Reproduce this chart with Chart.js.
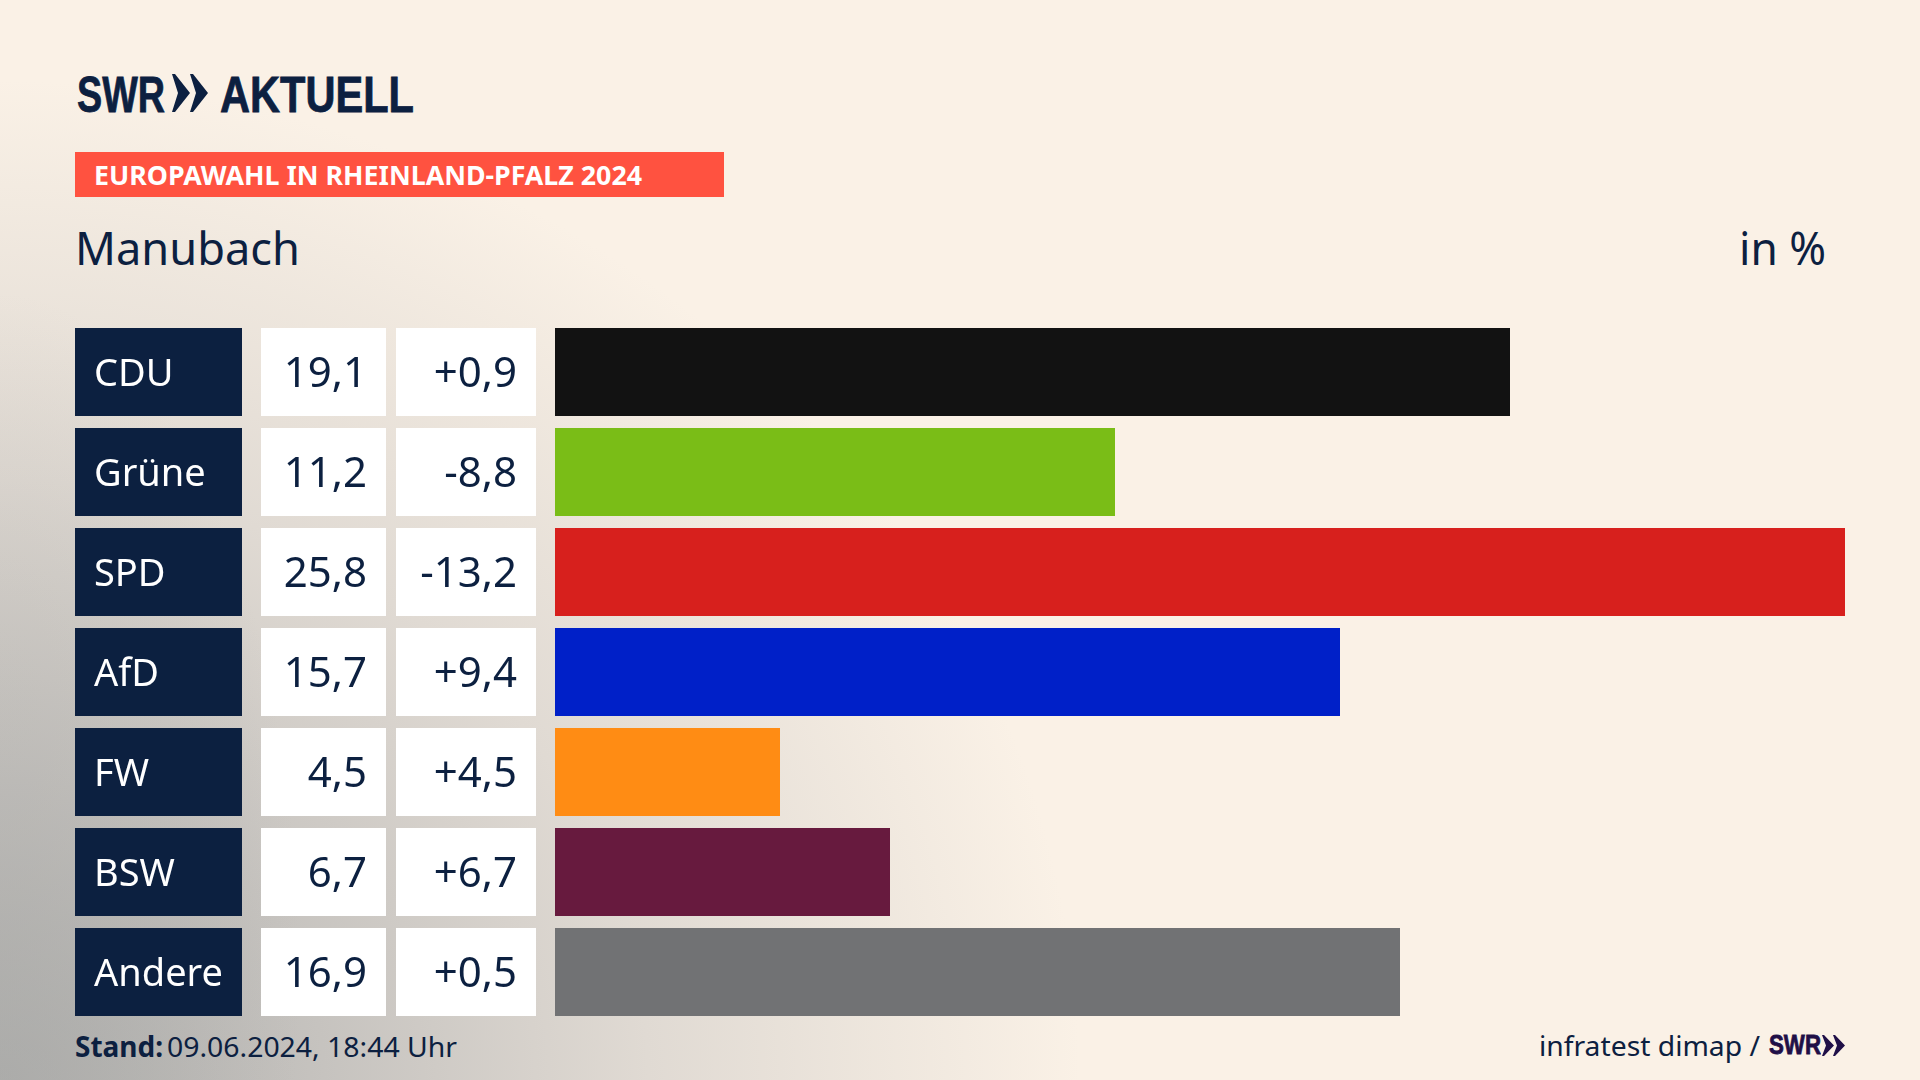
<!DOCTYPE html>
<html lang="de">
<head>
<meta charset="utf-8">
<title>Europawahl Manubach</title>
<script src="https://cdn.jsdelivr.net/npm/chart.js@4"></script>
<style>
  html, body { margin: 0; padding: 0; }
  body {
    width: 1920px; height: 1080px; overflow: hidden; position: relative;
    font-family: "Noto Sans", sans-serif; color: #0c2040;
    background:
      radial-gradient(ellipse 300px 680px at 0 90%, rgba(170,170,168,0.5) 0%, rgba(170,170,168,0) 100%),
      radial-gradient(ellipse 1080px 1000px at 0 100%, #adadab 0%, #c6c3bf 30%, #e0dad3 60%, rgba(250,241,230,0) 100%),
      #faf1e6;
  }
  canvas { position: absolute; left: 0; top: 0; }
  .txt { position: absolute; white-space: nowrap; line-height: 1; transform-origin: 0 0; }
  .logo { font-family: "Liberation Sans", sans-serif; font-weight: 700; -webkit-text-stroke: 0.8px currentColor; }
  #badge { position: absolute; left: 75px; top: 152px; width: 649px; height: 45px; background: #ff5240; }
  svg { position: absolute; }
</style>
</head>
<body>
<div class="txt logo" data-w="88" style="left:77px;top:70px;font-size:50px">SWR</div>
<svg style="left:172px;top:74px" width="37" height="38" viewBox="0 0 37 38" fill="#0c2040">
  <polygon points="0,0 3,0 18,19 3,38 0,38 6,19"/>
  <polygon points="18,0 21,0 36,19 21,38 18,38 24,19"/>
</svg>
<div class="txt logo" data-w="194" style="left:220px;top:70px;font-size:50px">AKTUELL</div>

<div id="badge"></div>
<div class="txt" data-w="548" style="left:94px;top:161px;font-size:27px;font-weight:700;color:#fff">EUROPAWAHL IN RHEINLAND-PFALZ 2024</div>

<div class="txt" data-w="225" style="left:75px;top:224px;font-size:46px">Manubach</div>
<div class="txt" data-w="87" style="left:1739px;top:224px;font-size:46px">in %</div>

<div class="txt" data-w="88" style="left:75px;top:1032px;font-size:28px;font-weight:700">Stand:</div>
<div class="txt" data-w="290" style="left:167px;top:1032px;font-size:28px">09.06.2024, 18:44 Uhr</div>
<div class="txt" data-w="221" style="left:1539px;top:1031px;font-size:28px">infratest dimap /</div>
<div class="txt logo" data-w="52" style="left:1769px;top:1032px;font-size:27px;color:#1f0f47">SWR</div>
<svg style="left:1822px;top:1035px" width="24" height="21" viewBox="0 0 24 21" fill="#1f0f47">
  <polygon points="0,0 2,0 12,10.5 2,21 0,21 4,10.5"/>
  <polygon points="11,0 13,0 23,10.5 13,21 11,21 15,10.5"/>
</svg>

<canvas id="chart" width="1920" height="1080"></canvas>

<script>
const parties = ['CDU', 'Grüne', 'SPD', 'AfD', 'FW', 'BSW', 'Andere'];
const shares = [19.1, 11.2, 25.8, 15.7, 4.5, 6.7, 16.9];
const changes = [0.9, -8.8, -13.2, 9.4, 4.5, 6.7, 0.5];
const partyColors = ['#121212', '#7abd17', '#d7201d', '#0020c8', '#ff8c14', '#671a3e', '#717274'];

const navy = '#0c2040';
const rowFont = '42px "Noto Sans", sans-serif';
const partyFont = '38px "Noto Sans", sans-serif';

function fmt(v) {
  return v.toFixed(1).replace('.', ',');
}
function fmtChange(v) {
  return (v > 0 ? '+' : '') + fmt(v);
}

// squeeze the DOM labels to the widths seen in the reference
document.querySelectorAll('.txt[data-w]').forEach(el => {
  const w = el.getBoundingClientRect().width;
  el.style.transform = 'scaleX(' + (Number(el.dataset.w) / w) + ')';
});

// the table left of the bars, rows follow the bars of the chart
const tableCells = {
  id: 'tableCells',
  beforeDatasetsDraw(chart) {
    const ctx = chart.ctx;
    const bars = chart.getDatasetMeta(0).data;
    ctx.save();
    ctx.textBaseline = 'middle';
    bars.forEach((bar, i) => {
      const top = bar.y - bar.height / 2;
      ctx.fillStyle = navy;
      ctx.fillRect(75, top, 167, bar.height);
      ctx.fillStyle = '#ffffff';
      ctx.fillRect(261, top, 125, bar.height);
      ctx.fillRect(396, top, 140, bar.height);

      ctx.fillStyle = '#ffffff';
      ctx.font = partyFont;
      ctx.textAlign = 'left';
      ctx.fillText(parties[i], 94, bar.y + 3);

      ctx.fillStyle = navy;
      ctx.font = rowFont;
      ctx.textAlign = 'right';
      ctx.fillText(fmt(shares[i]), 367, bar.y + 3);
      ctx.fillText(fmtChange(changes[i]), 517, bar.y + 3);
    });
    ctx.restore();
  }
};

new Chart(document.getElementById('chart'), {
  type: 'bar',
  data: {
    labels: parties,
    datasets: [{
      data: shares,
      backgroundColor: partyColors,
      borderWidth: 0,
      categoryPercentage: 1,
      barPercentage: 0.88
    }]
  },
  options: {
    indexAxis: 'y',
    responsive: false,
    animation: false,
    devicePixelRatio: 1,
    layout: { padding: { left: 555, right: 75, top: 322, bottom: 58 } },
    plugins: {
      legend: { display: false },
      tooltip: { enabled: false }
    },
    scales: {
      x: { display: false, min: 0, max: 25.8 },
      y: { display: false }
    }
  },
  plugins: [tableCells]
});
</script>
</body>
</html>
